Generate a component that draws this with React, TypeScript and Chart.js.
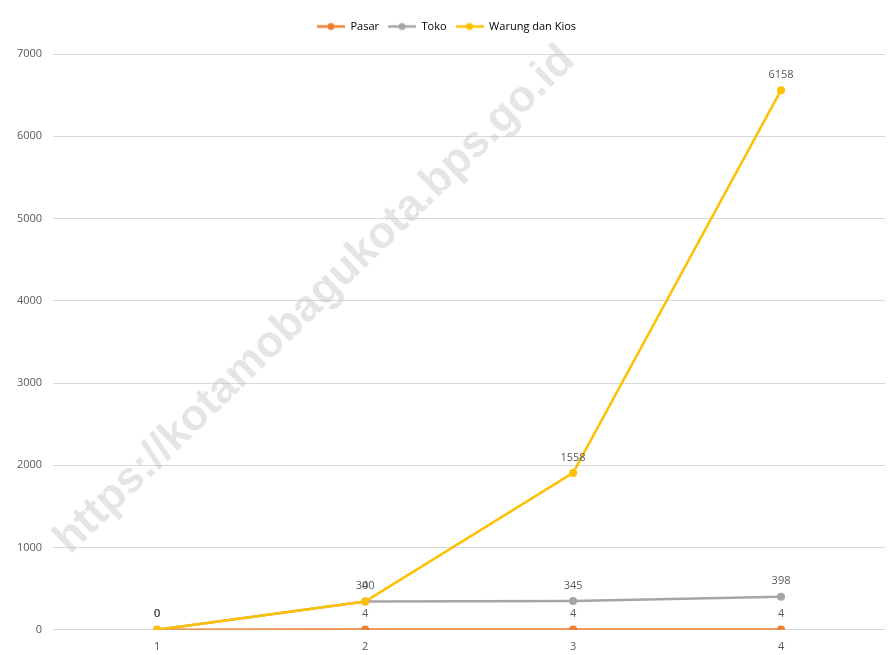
import React, { useEffect, useRef } from "react";
import { Chart, registerables } from "chart.js";

Chart.register(...registerables);

const categories = ["1", "2", "3", "4"];
const pasar = [0, 4, 4, 4];
const toko = [0, 340, 345, 398];
const warung = [0, 0, 1558, 6158];
const yTicks = [0, 1000, 2000, 3000, 4000, 5000, 6000, 7000];

const seriesNames = ["Pasar", "Toko", "Warung dan Kios"];
const seriesColors = ["#ED7D31", "#A5A5A5", "#FFC000"];

const FONT = "'Open Sans', 'Liberation Sans', sans-serif";

function legendIcon(color: string) {
  const c = document.createElement("canvas");
  c.width = 28;
  c.height = 10;
  const ctx = c.getContext("2d")!;
  ctx.strokeStyle = color;
  ctx.lineWidth = 2.5;
  ctx.beginPath();
  ctx.moveTo(0, 5);
  ctx.lineTo(28, 5);
  ctx.stroke();
  ctx.fillStyle = color;
  ctx.beginPath();
  ctx.arc(14, 5, 3.5, 0, Math.PI * 2);
  ctx.fill();
  return c;
}

const legendSpacer = {
  id: "legendSpacer",
  beforeInit(chart: any) {
    const legend = chart.legend;
    if (legend && !legend._patched) {
      const orig = legend.fit;
      legend.fit = function () {
        orig.call(this);
        this.height += 12;
      };
      legend._patched = true;
    }
  },
};

// draw series in index order so the last series lies on top (like Excel)
const seriesOrder = {
  id: "seriesOrder",
  beforeDatasetsDraw(chart: any) {
    const n = chart.data.datasets.length;
    for (let i = 0; i < n; i++) {
      const meta = chart.getDatasetMeta(i);
      if (chart._drawDataset) chart._drawDataset(meta);
      else meta.controller.draw();
    }
    return false;
  },
};

const valueLabels = {
  id: "valueLabels",
  afterDraw(chart: any) {
    const ctx = chart.ctx;
    ctx.save();
    ctx.font = "11px " + FONT;
    ctx.fillStyle = "#595959";
    ctx.textAlign = "center";
    ctx.textBaseline = "bottom";
    chart.data.datasets.forEach((ds: any, i: number) => {
      const meta = chart.getDatasetMeta(i);
      meta.data.forEach((pt: any, j: number) => {
        ctx.fillText(String(ds.data[j]), pt.x, pt.y - 10);
      });
    });
    ctx.restore();
  },
};

const watermark = {
  id: "watermark",
  afterDraw(chart: any) {
    const ctx = chart.ctx;
    ctx.save();
    ctx.translate(315, 300);
    ctx.rotate(-Math.atan2(545, 560));
    ctx.font = "bold 44px 'Liberation Sans', Arial, sans-serif";
    ctx.fillStyle = "rgba(190,190,190,0.4)";
    ctx.textAlign = "center";
    ctx.textBaseline = "middle";
    ctx.fillText("https://kotamobagukota.bps.go.id", 0, 0);
    ctx.restore();
  },
};

export default function App() {
  const ref = useRef<HTMLCanvasElement>(null);
  useEffect(() => {
    document.body.style.margin = "0";
    const data = [pasar, toko, warung];
    const chart = new Chart(ref.current!, {
      type: "line",
      data: {
        labels: categories,
        datasets: seriesNames.map((name, i) => ({
          label: name,
          data: data[i],
          borderColor: seriesColors[i],
          backgroundColor: seriesColors[i],
          borderWidth: 2.5,
          pointRadius: 4,
          pointBorderWidth: 0,
          pointHoverRadius: 4,
          pointStyle: "circle",
          fill: false,
          tension: 0,
        })),
      },
      options: {
        animation: false,
        responsive: false,
        maintainAspectRatio: false,
        layout: { padding: { left: 6, right: 2, top: 12, bottom: 0 } },
        plugins: {
          tooltip: { enabled: false },
          legend: {
            position: "top",
            labels: {
              usePointStyle: true,
              pointStyleWidth: 28,
              color: "#595959",
              font: { size: 11, family: FONT },
              boxHeight: 10,
              padding: 9,
              generateLabels: () =>
                seriesNames.map((n, i) => ({
                  text: n,
                  fillStyle: seriesColors[i],
                  strokeStyle: seriesColors[i],
                  lineWidth: 0,
                  pointStyle: legendIcon(seriesColors[i]),
                  hidden: false,
                  datasetIndex: i,
                })),
            },
          },
        },
        scales: {
          x: {
            offset: true,
            grid: { display: false },
            border: { display: false },
            ticks: { color: "#595959", font: { size: 11, family: FONT }, padding: 2 },
          },
          y: {
            stacked: true,
            min: 0,
            max: 7000,
            afterBuildTicks: (axis: any) => {
              axis.ticks = yTicks.map((v) => ({ value: v }));
            },
            grid: { color: "#D9D9D9", drawTicks: false },
            border: { display: false },
            ticks: {
              color: "#595959",
              font: { size: 11, family: FONT },
              padding: 11,
              callback: (v: any) => String(v),
            },
          },
        },
      },
      plugins: [legendSpacer, seriesOrder, valueLabels, watermark],
    });
    return () => chart.destroy();
  }, []);
  return (
    <div style={{ width: 889, height: 655 }}>
      <canvas ref={ref} width={889} height={655} style={{ width: 889, height: 655 }} />
    </div>
  );
}
